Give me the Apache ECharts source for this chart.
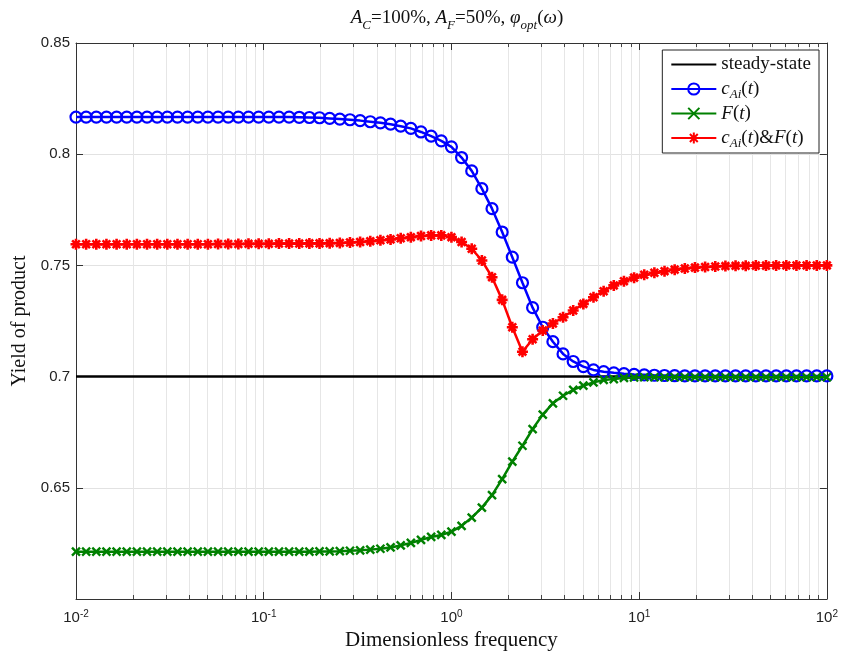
<!DOCTYPE html>
<html>
<head>
<meta charset="utf-8">
<script src="https://cdn.jsdelivr.net/npm/echarts@6.0.0/dist/echarts.min.js"></script>
<style>
html,body{margin:0;padding:0;background:#fff;}
#chart{width:841px;height:657px;}
</style>
</head>
<body>
<div id="chart"></div>
<script>
// ---- sampling grid (75 log-spaced frequencies, 1e-2 .. 1e2) ----
const nPoints = 75;
const logFreqMin = -2;
const logFreqMax = 2;
const frequency = Array.from({length: nPoints}, (_, i) => Math.pow(10, logFreqMin + (logFreqMax - logFreqMin) * i / (nPoints - 1)));

// ---- series values ----
const steadyStateValue = 0.7;

const cAiValues = [
  0.8167,0.8167,0.8167,0.8167,0.8167,0.8167,0.8167,0.8167,0.8167,0.8167,
  0.8167,0.8167,0.8167,0.8167,0.8167,0.8167,0.8167,0.8167,0.8167,0.8167,
  0.8167,0.8167,0.8166,0.8165,0.8164,
  0.8161,0.8158,0.8155,0.8151,0.8146,0.8141,0.8135,0.8126,0.8116,0.8100,
  0.8081,0.8060,0.8033,0.7985,0.7925,0.7845,0.7755,0.7650,0.7537,0.7422,
  0.7310,0.7222,0.7157,0.7102,0.7068,0.7045,0.7030,0.7022,0.7017,0.7013,
  0.7010,0.7008,0.7006,0.7005,0.7004,0.7003,0.7003,0.7003,0.7003,0.7003,
  0.7003,0.7003,0.7003,0.7003,0.7003,0.7003,0.7003,0.7003,0.7003,0.7003
];

const fValues = [
  0.6213,0.6213,0.6213,0.6213,0.6213,0.6213,0.6213,0.6213,0.6213,0.6213,
  0.6213,0.6213,0.6213,0.6213,0.6213,0.6213,0.6213,0.6213,0.6213,0.6213,
  0.6213,0.6213,0.6213,0.6213,0.6214,
  0.6214,0.6215,0.6217,0.6219,0.6222,0.6226,0.6232,0.6241,0.6252,0.6266,
  0.6279,0.6288,0.6303,0.6329,0.6366,0.6411,0.6467,0.6539,0.6618,0.6689,
  0.6764,0.6829,0.6880,0.6914,0.6940,0.6959,0.6974,0.6985,0.6989,0.6994,
  0.6996,0.6997,0.6997,0.6997,0.6997,0.6997,0.6997,0.6997,0.6997,0.6997,
  0.6997,0.6997,0.6997,0.6997,0.6997,0.6997,0.6997,0.6997,0.6997,0.6997
];

const cAiFValues = [
  0.7595,0.7595,0.7595,0.7595,0.7595,0.7595,0.7595,0.7595,0.7595,0.7595,
  0.7595,0.7595,0.7595,0.7595,0.7596,0.7596,0.7596,0.7597,0.7597,0.7597,
  0.7598,0.7598,0.7598,0.7599,0.7599,
  0.7600,0.7601,0.7603,0.7605,0.7609,0.7613,0.7617,0.7622,0.7627,0.7632,
  0.7635,0.7635,0.7627,0.7605,0.7575,0.7522,0.7447,0.7345,0.7222,0.7112,
  0.7168,0.7207,0.7239,0.7267,0.7297,0.7327,0.7357,0.7384,0.7410,0.7429,
  0.7445,0.7458,0.7467,0.7474,0.7481,0.7486,0.7490,0.7493,0.7495,0.7497,
  0.7498,0.7498,0.7499,0.7499,0.7500,0.7500,0.7500,0.7500,0.7500,0.7500
];

// ---- axis ticks ----
const xMin = 0.01, xMax = 100;
const yMin = 0.6, yMax = 0.85, yStep = 0.05;
const minorTickFreq = [
  0.02,0.03,0.04,0.05,0.06,0.07,0.08,0.09,
  0.2,0.3,0.4,0.5,0.6,0.7,0.8,0.9,
  2,3,4,5,6,7,8,9,
  20,30,40,50,60,70,80,90
];
const seriesNames = ['steady-state', 'cAi(t)', 'F(t)', 'cAi(t)&F(t)'];
const legendLabels = {
  'steady-state': '{r|steady-state}',
  'cAi(t)': '{i|c}{sub|Ai}{r|(}{i|t}{r|)}',
  'F(t)': '{i|F}{r|(}{i|t}{r|)}',
  'cAi(t)&F(t)': '{i|c}{sub|Ai}{r|(}{i|t}{r|)&}{i|F}{r|(}{i|t}{r|)}'
};

const serif = '"Liberation Serif", "DejaVu Serif", serif';
const sans = '"Liberation Sans", Arial, sans-serif';

const pair = vals => frequency.map((f, i) => [f, vals[i]]);

const chart = echarts.init(document.getElementById('chart'), null, {renderer: 'canvas'});

const axisLineStyle = {color: '#333', width: 1};

chart.setOption({
  animation: false,
  backgroundColor: '#fff',
  title: {
    text: '{i|A}{sub|C}{r|=100%, }{i|A}{sub|F}{r|=50%, }{i|φ}{sub|opt}{r|(}{i|ω}{r|)}',
    left: 452,
    textAlign: 'center',
    top: 2,
    textStyle: {
      fontWeight: 'normal',
      rich: {
        r: {fontFamily: serif, fontSize: 19, fontWeight: 'normal', color: '#111', lineHeight: 22},
        i: {fontFamily: serif, fontSize: 19, fontWeight: 'normal', fontStyle: 'italic', color: '#111', lineHeight: 22},
        sub: {fontFamily: serif, fontSize: 13, fontWeight: 'normal', fontStyle: 'italic', color: '#111', lineHeight: 13, verticalAlign: 'top', padding: [12, 0, 0, 0]}
      }
    }
  },
  legend: {
    data: [
      {name: seriesNames[0], itemStyle: {opacity: 0}},
      seriesNames[1],
      seriesNames[2],
      seriesNames[3]
    ],
    orient: 'vertical',
    right: 22,
    top: 50,
    align: 'left',
    itemWidth: 45,
    itemHeight: 14,
    itemGap: 3,
    padding: [5, 8, 3, 8],
    backgroundColor: '#fff',
    borderColor: '#222',
    borderWidth: 1,
    borderRadius: 0,
    formatter: name => legendLabels[name],
    textStyle: {
      rich: {
        r: {fontFamily: serif, fontSize: 19, color: '#111', lineHeight: 24},
        i: {fontFamily: serif, fontSize: 19, fontStyle: 'italic', color: '#111', lineHeight: 24},
        sub: {fontFamily: serif, fontSize: 13, fontStyle: 'italic', color: '#111', lineHeight: 13, verticalAlign: 'top', padding: [11, 0, 0, 0]}
      }
    }
  },
  grid: {left: 76, right: 13, top: 43, bottom: 58, containLabel: false},
  xAxis: [{
    type: 'log',
    logBase: 10,
    min: xMin,
    max: xMax,
    position: 'bottom',
    name: 'Dimensionless frequency',
    nameLocation: 'middle',
    nameGap: 25,
    nameTextStyle: {fontFamily: serif, fontSize: 21, color: '#111'},
    axisLine: {show: true, onZero: false, lineStyle: axisLineStyle},
    axisTick: {show: true, inside: true, length: 7, lineStyle: {color: '#333'}},
    axisLabel: {
      margin: 10,
      formatter: v => '{b|10}{s|' + Math.round(Math.log10(v)) + '}',
      rich: {
        b: {fontFamily: sans, fontSize: 15, color: '#222', lineHeight: 18},
        s: {fontFamily: sans, fontSize: 10, color: '#222', lineHeight: 10, verticalAlign: 'top'}
      }
    },
    splitLine: {show: true, lineStyle: {color: '#e2e2e2', width: 1}},
    minorTick: {show: false},
    minorSplitLine: {show: false}
  }, {
    type: 'log',
    logBase: 10,
    min: xMin,
    max: xMax,
    position: 'top',
    axisLine: {show: true, onZero: false, lineStyle: axisLineStyle},
    axisTick: {show: true, inside: true, length: 7, lineStyle: {color: '#333'}},
    axisLabel: {show: false},
    splitLine: {show: false}
  }],
  yAxis: [{
    type: 'value',
    min: yMin,
    max: yMax,
    interval: yStep,
    position: 'left',
    name: 'Yield of product',
    nameLocation: 'middle',
    nameGap: 43,
    nameTextStyle: {fontFamily: serif, fontSize: 20, color: '#111'},
    axisLine: {show: true, onZero: false, lineStyle: axisLineStyle},
    axisTick: {show: true, inside: true, length: 7, lineStyle: {color: '#333'}},
    axisLabel: {
      margin: 6,
      fontFamily: sans,
      fontSize: 15,
      color: '#222',
      formatter: v => Math.abs(v - yMin) < 1e-9 ? '' : String(Number(v.toFixed(2)))
    },
    splitLine: {show: true, lineStyle: {color: '#e2e2e2', width: 1}}
  }, {
    type: 'value',
    min: yMin,
    max: yMax,
    interval: yStep,
    position: 'right',
    axisLine: {show: true, onZero: false, lineStyle: axisLineStyle},
    axisTick: {show: true, inside: true, length: 7, lineStyle: {color: '#333'}},
    axisLabel: {show: false},
    splitLine: {show: false}
  }],
  series: [
    {
      type: 'custom',
      name: 'minor-grid',
      silent: true,
      z: 1,
      clip: false,
      xAxisIndex: 0,
      yAxisIndex: 0,
      encode: {x: 0, y: 1},
      data: minorTickFreq.map(f => [f, yMin]),
      renderItem: (params, api) => {
        const f = api.value(0);
        const b = api.coord([f, yMin]);
        const t = api.coord([f, yMax]);
        const x = Math.round(b[0]) + 0.5;
        return {
          type: 'group',
          children: [
            {type: 'line', shape: {x1: x, y1: b[1], x2: x, y2: t[1]}, style: {stroke: '#e6e6e6', lineWidth: 1}},
            {type: 'line', shape: {x1: x, y1: b[1], x2: x, y2: b[1] - 4}, style: {stroke: '#444', lineWidth: 1}},
            {type: 'line', shape: {x1: x, y1: t[1], x2: x, y2: t[1] + 4}, style: {stroke: '#444', lineWidth: 1}}
          ]
        };
      }
    },
    {
      name: seriesNames[0],
      type: 'line',
      data: [[frequency[0], steadyStateValue], [frequency[nPoints - 1], steadyStateValue]],
      symbol: 'none',
      lineStyle: {color: '#000', width: 2.5},
      itemStyle: {color: '#000'},
      z: 3
    },
    {
      name: seriesNames[1],
      type: 'line',
      data: pair(cAiValues),
      symbol: 'circle',
      symbolSize: 11,
      showSymbol: true,
      lineStyle: {color: '#0000ff', width: 2.5},
      itemStyle: {color: 'rgba(255,255,255,0)', borderColor: '#0000ff', borderWidth: 2.2},
      z: 4
    },
    {
      name: seriesNames[2],
      type: 'line',
      data: pair(fValues),
      symbol: 'path://M0,0L10,10M10,0L0,10',
      symbolSize: 8,
      lineStyle: {color: '#008000', width: 2.5},
      itemStyle: {color: '#008000', borderColor: '#008000', borderWidth: 2.4},
      z: 5
    },
    {
      name: seriesNames[3],
      type: 'line',
      data: pair(cAiFValues),
      symbol: 'path://M5,0L5,10M0,5L10,5M1.5,1.5L8.5,8.5M8.5,1.5L1.5,8.5',
      symbolSize: 11,
      lineStyle: {color: '#ff0000', width: 2.5},
      itemStyle: {color: '#ff0000', borderColor: '#ff0000', borderWidth: 2.6},
      z: 6
    }
  ]
});
</script>
</body>
</html>
